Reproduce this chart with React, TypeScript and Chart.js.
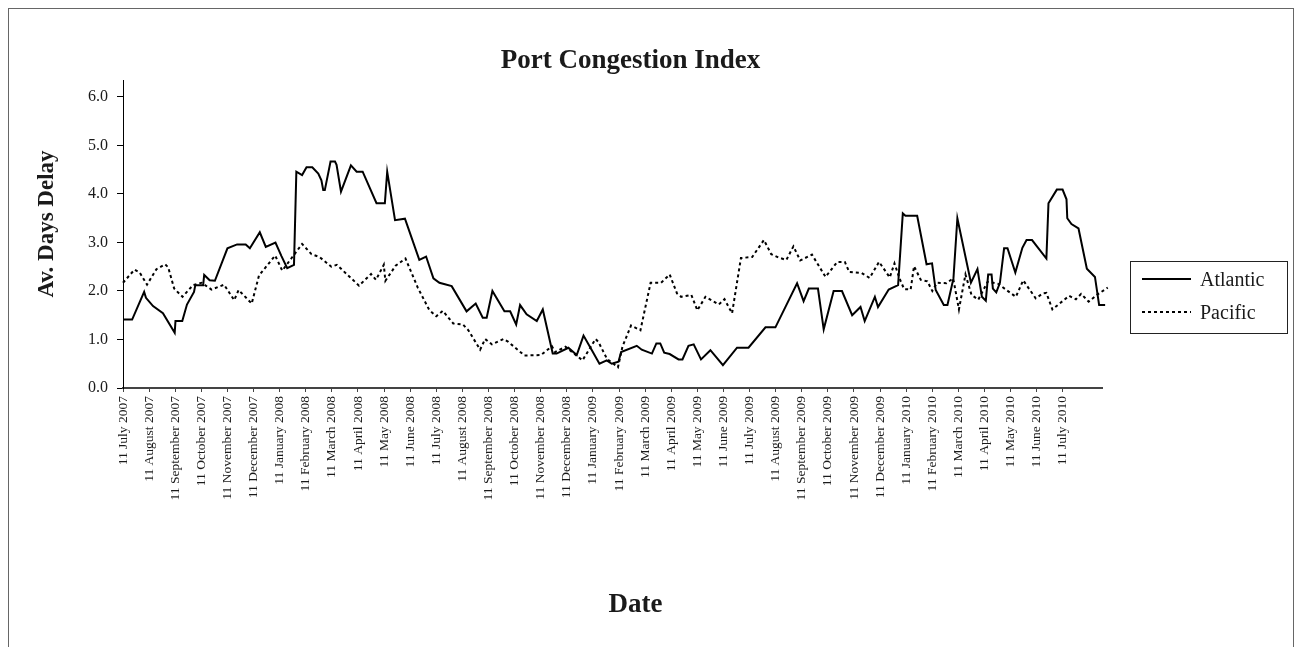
import React, { useEffect, useRef } from 'react';
import { Chart, registerables } from 'chart.js';

Chart.register(...registerables);

const chartTitle = 'Port Congestion Index';
const yAxisTitle = 'Av. Days Delay';
const xAxisTitle = 'Date';
const seriesNames = ['Atlantic', 'Pacific'];

const monthLabels = [
  '11 July 2007', '11 August 2007', '11 September 2007', '11 October 2007', '11 November 2007', '11 December 2007',
  '11 January 2008', '11 February 2008', '11 March 2008', '11 April 2008', '11 May 2008', '11 June 2008',
  '11 July 2008', '11 August 2008', '11 September 2008', '11 October 2008', '11 November 2008', '11 December 2008',
  '11 January 2009', '11 February 2009', '11 March 2009', '11 April 2009', '11 May 2009', '11 June 2009',
  '11 July 2009', '11 August 2009', '11 September 2009', '11 October 2009', '11 November 2009', '11 December 2009',
  '11 January 2010', '11 February 2010', '11 March 2010', '11 April 2010', '11 May 2010', '11 June 2010',
  '11 July 2010',
];

// position of each observation, in months after 11 July 2007
const atlanticMonths = [
  0.00, 0.35, 0.81, 0.88, 1.15, 1.53, 1.98, 2.01, 2.27, 2.45,
  2.72, 2.77, 3.07, 3.11, 3.32, 3.52, 4.00, 4.37, 4.70, 4.86,
  5.24, 5.47, 5.84, 6.07, 6.29, 6.55, 6.64, 6.86, 7.03, 7.25,
  7.48, 7.60, 7.67, 7.73, 7.95, 8.12, 8.18, 8.35, 8.73, 8.95,
  9.18, 9.71, 10.03, 10.12, 10.42, 10.80, 11.35, 11.61, 11.89, 12.12,
  12.59, 13.16, 13.51, 13.78, 13.93, 14.15, 14.61, 14.83, 15.06, 15.21,
  15.46, 15.85, 16.08, 16.46, 16.61, 17.06, 17.38, 17.64, 17.96, 18.25,
  18.53, 18.72, 18.98, 19.08, 19.68, 19.87, 20.26, 20.43, 20.58, 20.73,
  20.94, 21.28, 21.43, 21.66, 21.86, 22.14, 22.50, 22.98, 23.52, 23.96,
  24.61, 24.99, 25.82, 26.07, 26.27, 26.62, 26.84, 27.22, 27.54, 27.93,
  28.25, 28.41, 28.80, 28.92, 29.33, 29.69, 29.87, 29.97, 30.42, 30.78,
  30.99, 31.13, 31.44, 31.58, 31.81, 31.96, 32.48, 32.73, 32.90, 33.05,
  33.14, 33.27, 33.32, 33.45, 33.59, 33.75, 33.88, 34.18, 34.45, 34.61,
  34.82, 35.37, 35.45, 35.77, 35.99, 36.14, 36.17, 36.33, 36.60, 36.92,
  37.23, 37.39, 37.62,
];
const atlanticValues = [
  1.41, 1.41, 1.98, 1.86, 1.69, 1.54, 1.14, 1.38, 1.38, 1.72,
  1.98, 2.12, 2.12, 2.33, 2.22, 2.21, 2.88, 2.96, 2.96, 2.88,
  3.21, 2.91, 3.00, 2.72, 2.47, 2.54, 4.46, 4.39, 4.55, 4.55,
  4.42, 4.28, 4.08, 4.08, 4.67, 4.67, 4.60, 4.05, 4.59, 4.46,
  4.46, 3.81, 3.81, 4.46, 3.46, 3.49, 2.64, 2.71, 2.26, 2.17,
  2.10, 1.58, 1.74, 1.45, 1.45, 2.00, 1.58, 1.58, 1.31, 1.71,
  1.52, 1.38, 1.62, 0.71, 0.71, 0.83, 0.68, 1.08, 0.78, 0.50,
  0.57, 0.50, 0.54, 0.74, 0.87, 0.79, 0.71, 0.92, 0.92, 0.73,
  0.70, 0.59, 0.59, 0.87, 0.90, 0.59, 0.78, 0.47, 0.83, 0.83,
  1.25, 1.25, 2.16, 1.79, 2.05, 2.05, 1.21, 2.00, 2.00, 1.50,
  1.67, 1.38, 1.88, 1.67, 2.03, 2.12, 3.60, 3.55, 3.55, 2.55,
  2.57, 2.02, 1.71, 1.71, 2.26, 3.50, 2.17, 2.45, 1.88, 1.80,
  2.34, 2.34, 2.05, 1.97, 2.17, 2.88, 2.88, 2.38, 2.89, 3.05,
  3.05, 2.67, 3.81, 4.09, 4.09, 3.89, 3.50, 3.38, 3.29, 2.46,
  2.29, 1.71, 1.71,
];

const pacificMonths = [
  0.00, 0.44, 0.64, 0.92, 1.28, 1.61, 1.73, 1.96, 2.28, 2.68,
  3.01, 3.39, 3.87, 4.26, 4.43, 4.93, 5.21, 5.83, 6.10, 6.46,
  6.86, 7.22, 7.53, 7.98, 8.19, 9.04, 9.50, 9.69, 9.99, 10.05,
  10.44, 10.82, 11.29, 11.73, 12.00, 12.25, 12.65, 13.02, 13.23, 13.68,
  13.87, 14.13, 14.57, 14.76, 15.38, 16.01, 16.43, 16.55, 16.95, 17.60,
  18.10, 18.21, 18.54, 18.96, 19.13, 19.46, 19.82, 20.21, 20.61, 20.94,
  21.22, 21.38, 21.77, 22.00, 22.31, 22.82, 23.04, 23.33, 23.67, 24.10,
  24.55, 24.83, 25.11, 25.41, 25.68, 25.94, 26.39, 26.91, 27.36, 27.65,
  27.82, 28.29, 28.60, 28.96, 29.37, 29.55, 29.75, 29.92, 30.17, 30.30,
  30.56, 30.81, 31.00, 31.18, 31.54, 31.80, 32.02, 32.27, 32.50, 32.76,
  33.12, 33.51, 34.20, 34.48, 34.96, 35.24, 35.37, 35.60, 36.24, 36.50,
  36.70, 36.99, 37.33, 37.72,
];
const pacificValues = [
  2.17, 2.44, 2.38, 2.13, 2.45, 2.55, 2.49, 2.05, 1.88, 2.12,
  2.17, 2.03, 2.13, 1.81, 2.02, 1.74, 2.32, 2.73, 2.42, 2.68,
  2.97, 2.76, 2.70, 2.50, 2.54, 2.11, 2.35, 2.23, 2.54, 2.21,
  2.52, 2.67, 2.07, 1.61, 1.48, 1.59, 1.33, 1.31, 1.19, 0.79,
  1.01, 0.90, 1.01, 0.95, 0.67, 0.68, 0.86, 0.74, 0.85, 0.57,
  1.01, 0.95, 0.60, 0.43, 0.85, 1.29, 1.19, 2.17, 2.17, 2.34,
  1.95, 1.88, 1.92, 1.60, 1.88, 1.72, 1.83, 1.54, 2.68, 2.70,
  3.05, 2.76, 2.69, 2.64, 2.92, 2.63, 2.75, 2.29, 2.60, 2.60,
  2.39, 2.37, 2.27, 2.60, 2.28, 2.57, 2.25, 2.04, 2.03, 2.51,
  2.23, 2.20, 2.00, 2.17, 2.16, 2.26, 1.62, 2.34, 1.92, 1.82,
  2.19, 2.15, 1.88, 2.22, 1.85, 1.95, 1.96, 1.62, 1.90, 1.83,
  1.94, 1.78, 1.93, 2.07,
];

const SERIF = '"Liberation Serif", "Times New Roman", serif';
const PACIFIC_DASH = [3, 3];

export default function App() {
  const ref = useRef<HTMLCanvasElement>(null);

  useEffect(() => {
    const canvas = ref.current;
    if (!canvas) return;

    const decor = {
      id: 'decor',
      afterDraw(chart: any) {
        const { ctx, chartArea: ca } = chart;
        const midX = (ca.left + ca.right) / 2;
        ctx.save();
        ctx.fillStyle = '#1a1a1a';
        ctx.textAlign = 'center';
        ctx.textBaseline = 'middle';
        ctx.font = `bold 27px ${SERIF}`;
        ctx.fillText(chartTitle, midX + 18, ca.top - 19);
        ctx.font = `bold 27px ${SERIF}`;
        ctx.fillText(xAxisTitle, midX + 23, ca.bottom + 217);
        ctx.save();
        ctx.translate(38, ca.top + 144);
        ctx.rotate(-Math.PI / 2);
        ctx.font = `bold 23px ${SERIF}`;
        ctx.fillText(yAxisTitle, 0, 0);
        ctx.restore();

        // legend
        const lx = ca.right + 28;
        const ly = 252;
        const lw = 157;
        const lh = 72;
        ctx.lineWidth = 1;
        ctx.strokeStyle = '#222';
        ctx.setLineDash([]);
        ctx.strokeRect(lx + 0.5, ly + 0.5, lw, lh);
        const rows = [ly + 18, ly + 51];
        ctx.textAlign = 'left';
        ctx.textBaseline = 'alphabetic';
        ctx.font = `20px ${SERIF}`;
        seriesNames.forEach((name, i) => {
          ctx.beginPath();
          ctx.lineWidth = 2;
          ctx.strokeStyle = '#000';
          ctx.setLineDash(i === 1 ? PACIFIC_DASH : []);
          ctx.moveTo(lx + 12, rows[i]);
          ctx.lineTo(lx + 61, rows[i]);
          ctx.stroke();
          ctx.setLineDash([]);
          ctx.fillText(name, lx + 70, rows[i] + 7);
        });
        ctx.restore();
      },
    };

    const chart = new Chart(canvas, {
      type: 'line',
      data: {
        datasets: [
          {
            label: seriesNames[0],
            data: atlanticMonths.map((m, i) => ({ x: m, y: atlanticValues[i] })),
            borderColor: '#000',
            borderWidth: 2,
            pointRadius: 0,
            tension: 0,
            fill: false,
            clip: false as any,
          },
          {
            label: seriesNames[1],
            data: pacificMonths.map((m, i) => ({ x: m, y: pacificValues[i] })),
            borderColor: '#000',
            borderWidth: 2,
            borderDash: PACIFIC_DASH,
            pointRadius: 0,
            tension: 0,
            fill: false,
            clip: false as any,
          },
        ],
      },
      options: {
        responsive: false,
        animation: false,
        layout: { padding: { left: 0, top: 71, right: 191, bottom: 121 } },
        plugins: {
          legend: { display: false },
          title: { display: false },
          tooltip: { enabled: false },
        },
        scales: {
          x: {
            type: 'linear',
            min: 0,
            max: 37.5,
            afterBuildTicks: (s: any) => {
              s.ticks = monthLabels.map((_, i) => ({ value: i }));
            },
            afterFit: (s: any) => {
              s.height = 140;
              s.paddingLeft = 0;
              s.paddingRight = 0;
            },
            ticks: {
              autoSkip: false,
              maxRotation: 90,
              minRotation: 90,
              padding: 4,
              color: '#1a1a1a',
              font: { family: SERIF, size: 13.5 },
              callback: (v: any) => monthLabels[Math.round(Number(v))] ?? '',
            },
            grid: { drawOnChartArea: false, drawTicks: true, tickLength: 4, color: '#444', lineWidth: 1 },
            border: { display: true, color: '#444', width: 2 },
          },
          y: {
            min: 0,
            max: 6.35,
            afterFit: (s: any) => {
              s.width = 114;
              s.paddingTop = 0;
              s.paddingBottom = 0;
            },
            ticks: {
              stepSize: 1,
              includeBounds: false,
              padding: 9,
              color: '#1a1a1a',
              font: { family: SERIF, size: 16 },
              callback: (v: any) => Number(v).toFixed(1),
            },
            grid: { drawOnChartArea: false, drawTicks: true, tickLength: 6, color: '#000' },
            border: { display: true, color: '#000', width: 1 },
          },
        },
      },
      plugins: [decor],
    } as any);

    return () => chart.destroy();
  }, []);

  return (
    <div style={{ border: '1px solid #666', width: 1284, height: 660 }}>
      <canvas ref={ref} width={1284} height={640} style={{ display: 'block' }} />
    </div>
  );
}
